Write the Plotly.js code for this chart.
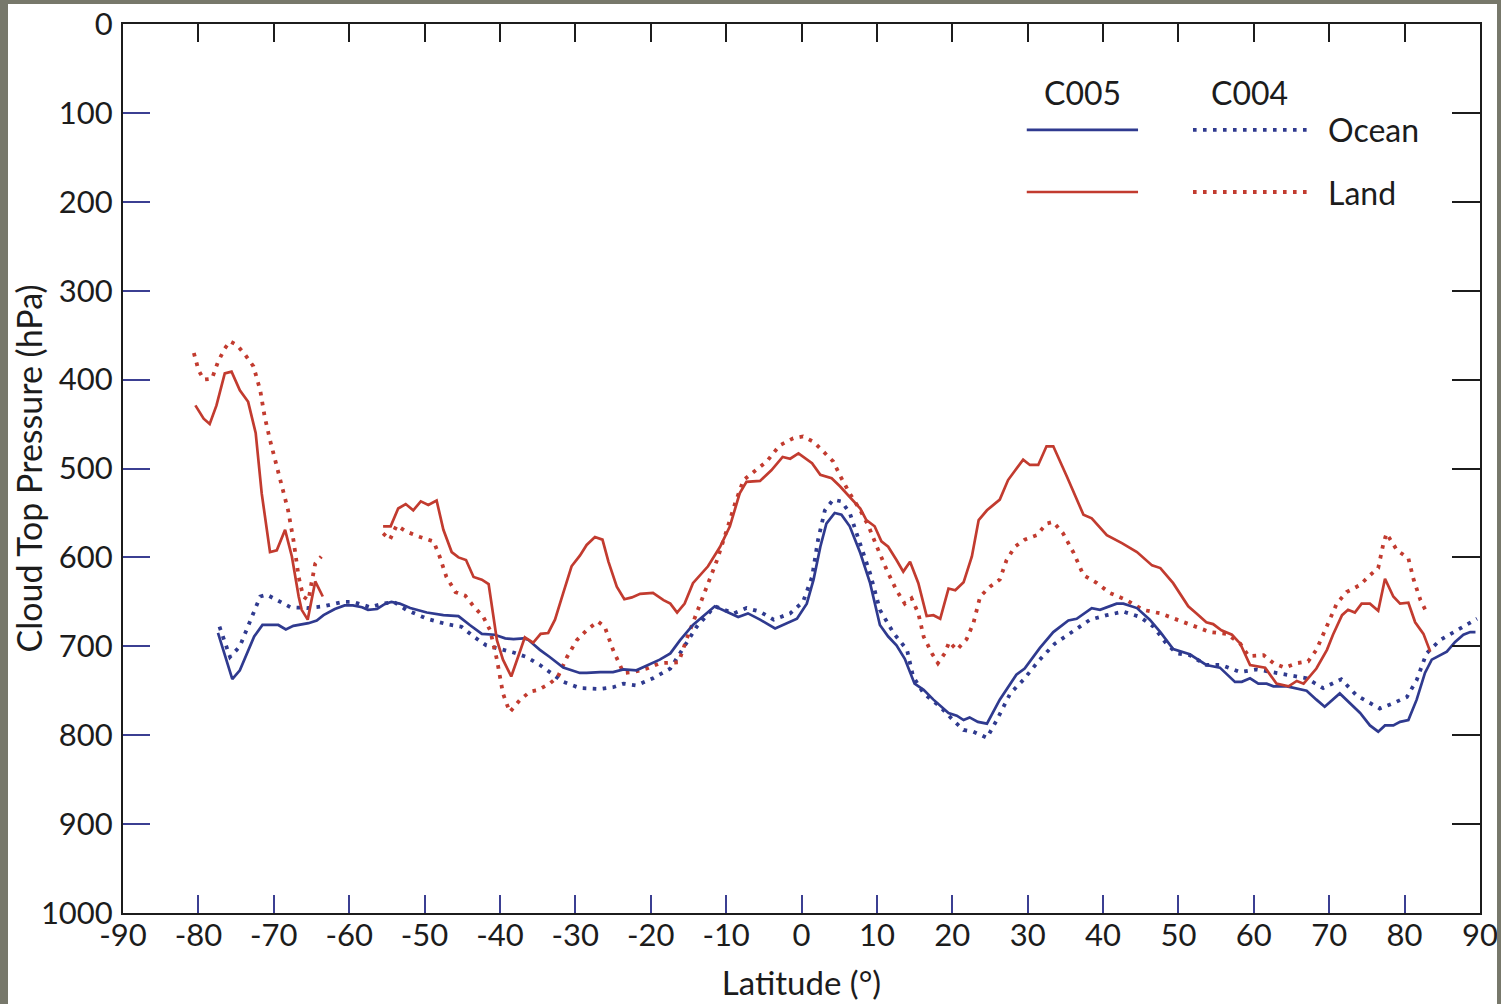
<!DOCTYPE html>
<html>
<head>
<meta charset="utf-8">
<script src="https://cdn.plot.ly/plotly-3.0.1.min.js"></script>
<style>
  html, body { margin: 0; padding: 0; background: #77786b; width: 1501px; height: 1004px; overflow: hidden; }
  #chart { position: absolute; left: 8px; top: 4px; width: 1489px; height: 1000px; background: #ffffff; }
</style>
</head>
<body>
<div id="chart"></div>
<script>
// Zonal mean cloud top pressure (hPa) by latitude, Collection 5 vs Collection 4

// C005, ocean
const c005OceanLat = [-77.4,-75.5,-74.5,-72.6,-71.5,-69.4,-68.4,-67.4,-65.4,-64.3,-63.4,-61.9,-60.6,-59.5,-58.3,-57.5,-56.3,-55.2,-54.4,-53.3,-51.9,-49.7,-47.5,-45.5,-44.0,-42.4,-40.7,-39.3,-38.2,-36.9,-36.2,-34.7,-33.4,-31.6,-29.4,-28.5,-26.7,-25.0,-23.6,-21.9,-18.8,-17.4,-16.1,-14.4,-11.5,-8.4,-7.1,-5.5,-3.5,-0.6,0.7,1.6,2.5,3.3,4.4,5.3,6.4,7.8,9.1,10.4,11.5,12.6,13.7,15.0,16.2,17.5,19.5,20.6,21.5,22.3,23.4,24.6,26.3,28.5,29.6,31.6,33.4,35.4,36.5,38.5,39.6,41.8,42.7,44.5,46.2,47.6,49.3,51.5,53.7,55.5,57.5,58.4,59.5,60.6,61.7,62.6,64.4,66.1,67.0,68.3,69.4,71.4,72.8,74.1,75.4,76.5,77.4,78.5,79.4,80.5,81.6,82.7,83.6,84.7,85.6,86.7,87.8,88.7,89.4];
const c005OceanCtp = [685,737,727,689,676,676,681,677,674,671,665,658,654,654,656,659,658,652,650,652,657,662,665,666,676,686,687,691,692,691,693,704,712,724,730,730,729,729,726,727,715,708,693,676,655,667,663,670,680,669,652,625,588,562,550,552,565,595,629,676,689,699,714,742,749,760,775,778,783,780,785,787,760,732,725,702,684,671,669,657,659,652,652,657,670,684,703,709,721,724,740,740,736,742,742,745,745,748,750,760,768,753,764,775,789,796,789,789,785,783,760,730,715,710,706,695,687,684,684];

// C004, ocean
const c004OceanLat = [-77.2,-75.8,-74.5,-73.2,-71.8,-70.9,-69.2,-67.8,-65.6,-63.4,-60.8,-59.5,-57.2,-55.5,-54.1,-52.4,-49.7,-47.1,-45.1,-43.5,-41.8,-40.0,-38.2,-36.5,-34.7,-32.9,-31.6,-29.4,-26.7,-25.0,-23.6,-21.9,-19.7,-17.4,-15.9,-13.9,-11.5,-9.0,-7.3,-5.5,-3.7,-1.5,0.2,1.4,2.2,3.1,4.2,5.3,6.4,7.8,9.1,10.4,12.2,14.0,14.8,16.2,18.4,20.1,21.5,22.8,24.6,25.9,27.7,29.4,31.6,33.6,36.1,38.3,40.5,42.7,44.9,46.7,48.4,49.8,51.5,53.7,55.7,58.2,60.4,62.6,64.8,67.0,69.2,71.6,73.6,76.7,78.5,80.3,81.6,82.9,84.7,86.9,89.6];
const c004OceanCtp = [678,712,700,674,644,642,650,656,657,655,650,650,656,652,650,659,669,675,678,689,699,703,707,712,721,732,740,747,748,746,742,744,736,725,704,678,655,663,657,661,670,663,650,622,580,547,535,537,550,584,618,659,685,704,734,753,768,783,794,796,803,783,753,738,715,697,682,670,665,661,667,678,697,708,710,721,721,729,726,729,733,736,747,737,755,770,764,757,738,708,693,682,669];

// C005, land (no land values between about -63 and -55)
const c005LandLat = [-80.4,-79.3,-78.5,-77.6,-76.5,-75.6,-74.5,-73.4,-72.4,-71.6,-70.5,-69.6,-68.5,-67.6,-66.7,-66.3,-65.5,-64.5,-63.5,-59.0,-55.5,-54.5,-53.5,-52.5,-51.5,-50.5,-49.5,-48.4,-47.5,-46.4,-45.5,-44.5,-43.5,-42.4,-41.5,-40.4,-39.6,-38.5,-37.6,-36.7,-35.6,-34.6,-33.6,-32.7,-31.6,-30.5,-29.4,-28.5,-27.4,-26.4,-25.6,-24.5,-23.5,-22.5,-21.4,-19.7,-18.3,-17.4,-16.5,-15.5,-14.4,-12.4,-10.8,-9.5,-8.2,-7.3,-5.5,-4.0,-2.5,-1.5,-0.4,1.4,2.5,4.0,5.1,6.4,7.8,8.6,9.7,10.6,11.5,12.6,13.5,14.4,15.5,16.6,17.5,18.4,19.5,20.4,21.5,22.6,23.5,24.6,26.3,27.4,29.4,30.3,31.4,32.5,33.4,35.2,37.4,38.5,40.5,42.5,44.5,46.5,47.6,49.3,51.3,52.4,53.7,54.6,55.7,57.1,58.2,59.5,61.5,63.0,64.6,65.7,66.6,68.3,69.7,70.5,71.7,72.5,73.4,74.3,75.4,76.5,77.4,78.5,79.4,80.5,81.4,82.5,83.4];
const c005LandCtp = [429,444,450,429,393,391,412,425,460,528,594,592,569,599,644,659,670,627,644,null,565,565,545,540,547,537,541,536,569,594,600,603,622,625,630,693,715,734,712,690,696,686,685,670,640,610,598,586,577,580,605,633,647,645,641,640,648,652,662,652,629,610,588,565,528,515,514,502,487,489,483,494,507,511,520,532,545,558,565,582,588,603,616,605,629,666,665,669,635,637,628,599,558,547,535,513,490,496,496,475,475,509,552,556,575,584,594,609,612,629,655,663,673,675,682,687,697,721,724,742,745,739,742,725,704,687,665,659,662,652,652,660,624,644,652,651,673,686,706];

// C004, land
const c004LandLat = [-80.6,-80.0,-79.3,-78.2,-77.4,-76.5,-75.8,-74.9,-73.8,-72.7,-71.8,-71.2,-70.5,-69.6,-68.7,-68.1,-67.4,-66.7,-66.1,-65.4,-65.0,-64.5,-63.7,-59.0,-55.5,-54.6,-53.7,-52.4,-50.6,-48.8,-48.0,-47.1,-45.9,-44.6,-43.5,-42.2,-41.3,-40.4,-39.6,-38.7,-37.3,-36.0,-34.9,-33.4,-32.3,-31.1,-29.8,-28.5,-27.0,-26.1,-25.0,-23.6,-22.3,-20.5,-18.8,-16.3,-15.2,-13.9,-12.6,-11.2,-9.9,-8.8,-7.7,-6.4,-4.6,-2.9,-1.1,0.2,1.6,2.9,4.2,5.3,6.4,7.8,8.9,10.0,11.3,12.6,13.7,14.6,15.5,16.2,17.3,18.1,19.0,19.6,20.6,21.9,22.8,23.7,25.0,26.3,27.2,28.3,29.6,31.2,32.5,33.4,34.7,36.1,37.4,39.2,40.9,43.1,45.3,47.6,49.8,52.0,54.2,56.4,58.2,59.3,61.3,62.6,64.1,65.7,67.2,68.3,69.7,71.0,72.3,74.1,75.4,76.5,77.2,77.6,79.0,80.5,81.2,82.1,83.1];
const c004LandCtp = [370,389,400,399,380,365,357,361,372,385,412,442,468,498,524,547,580,622,644,648,629,607,599,null,573,580,564,571,577,582,599,622,639,643,655,667,682,715,753,774,760,751,749,742,734,712,693,682,672,678,704,730,729,725,719,718,691,663,633,603,569,539,513,504,492,474,466,464,470,481,492,511,528,547,565,588,614,637,652,646,663,689,708,719,708,695,704,692,674,644,633,625,603,588,580,575,562,560,573,595,620,629,640,648,659,663,670,678,684,686,697,711,710,719,724,719,717,704,678,652,639,631,620,612,584,573,592,601,625,648,665];

// Axis ticks
const latTicks = [-90,-80,-70,-60,-50,-40,-30,-20,-10,0,10,20,30,40,50,60,70,80,90];
const latTickText = ['-90','-80','-70','-60','-50','-40','-30','-20','-10','0','10','20','30','40','50','60','70','80','90'];
const ctpTicks = [0,100,200,300,400,500,600,700,800,900,1000];
const ctpTickText = ['0','100','200','300','400','500','600','700','800','900','1000'];

// Legend entries
const collectionNames = ['C005', 'C004'];
const surfaceNames = ['Ocean', 'Land'];

const BLUE = '#2f3a8f';
const RED = '#c23b2f';
const INK = '#1c1c1c';
const TICK_BLUE = '#3b3f92';
const FONT = 'Gill Sans, "Gill Sans MT", Lato, "Open Sans", sans-serif';
const SOLID_W = 2.7;
const DOT_W = 3.8;
const DOT_DASH = '3.6px,6.4px';

const traces = [
  { x: c004OceanLat, y: c004OceanCtp, mode: 'lines', line: { color: BLUE, width: DOT_W, dash: DOT_DASH }, name: 'C004 Ocean', connectgaps: false },
  { x: c004LandLat, y: c004LandCtp, mode: 'lines', line: { color: RED, width: DOT_W, dash: DOT_DASH }, name: 'C004 Land', connectgaps: false },
  { x: c005OceanLat, y: c005OceanCtp, mode: 'lines', line: { color: BLUE, width: SOLID_W }, name: 'C005 Ocean', connectgaps: false },
  { x: c005LandLat, y: c005LandCtp, mode: 'lines', line: { color: RED, width: SOLID_W }, name: 'C005 Land', connectgaps: false },
  // carries the top and right frame axes
  { x: [], y: [], xaxis: 'x2', yaxis: 'y2', mode: 'lines', hoverinfo: 'skip', showlegend: false }
];

// Legend key geometry, in plot-area fractions
const keyCols = [
  { x0: 0.666, x1: 0.748, dash: 'solid', width: SOLID_W },
  { x0: 0.7885, x1: 0.8725, dash: DOT_DASH, width: DOT_W }
];
const keyRows = [
  { y: 0.8808, color: BLUE },
  { y: 0.8110, color: RED }
];

const shapes = [];
keyRows.forEach(r => keyCols.forEach(c => {
  shapes.push({ type: 'line', xref: 'paper', yref: 'paper', x0: c.x0, x1: c.x1, y0: r.y, y1: r.y,
    line: { color: r.color, width: c.width, dash: c.dash } });
}));

const annotations = [];
collectionNames.forEach((name, i) => {
  annotations.push({ xref: 'paper', yref: 'paper', x: (keyCols[i].x0 + keyCols[i].x1) / 2, y: 0.9235,
    text: name, showarrow: false, xanchor: 'center', yanchor: 'middle', font: { family: FONT, size: 32, color: INK } });
});
surfaceNames.forEach((name, i) => {
  annotations.push({ xref: 'paper', yref: 'paper', x: 0.8867, y: keyRows[i].y,
    text: name, showarrow: false, xanchor: 'left', yanchor: 'middle', font: { family: FONT, size: 32, color: INK } });
});

const layout = {
  width: 1489,
  height: 1000,
  margin: { l: 115, r: 17, t: 20, b: 91 },
  paper_bgcolor: '#ffffff',
  plot_bgcolor: '#ffffff',
  showlegend: false,
  font: { family: FONT, color: INK },
  xaxis: {
    range: [-90, 90.001], tickvals: latTicks, ticktext: latTickText,
    ticks: 'inside', ticklen: 18, tickwidth: 2, tickcolor: TICK_BLUE,
    showline: true, linecolor: INK, linewidth: 2, showgrid: false, zeroline: false,
    ticklabeloverflow: 'allow', ticklabelstandoff: -6,
    tickfont: { family: FONT, size: 31, color: INK },
    title: { text: 'Latitude (°)', font: { family: FONT, size: 33, color: INK }, standoff: 20 }
  },
  yaxis: {
    range: [1000, -0.01], tickvals: ctpTicks, ticktext: ctpTickText,
    ticks: 'inside', ticklen: 27, tickwidth: 2, tickcolor: TICK_BLUE,
    showline: true, linecolor: INK, linewidth: 2, showgrid: false, zeroline: false,
    ticklabeloverflow: 'allow', ticklabelstandoff: 2,
    tickfont: { family: FONT, size: 31, color: INK },
    title: { text: 'Cloud Top Pressure (hPa)', font: { family: FONT, size: 34, color: INK }, standoff: 6 }
  },
  xaxis2: {
    overlaying: 'x', side: 'top', anchor: 'y2', range: [-90, 90.001], tickvals: latTicks,
    ticks: 'inside', ticklen: 18, tickwidth: 2, tickcolor: INK, showticklabels: false,
    showline: true, linecolor: INK, linewidth: 2, showgrid: false, zeroline: false
  },
  yaxis2: {
    overlaying: 'y', side: 'right', anchor: 'x2', range: [1000, -0.01], tickvals: ctpTicks,
    ticks: 'inside', ticklen: 28, tickwidth: 2, tickcolor: INK, showticklabels: false,
    showline: true, linecolor: INK, linewidth: 2, showgrid: false, zeroline: false
  },
  shapes: shapes,
  annotations: annotations
};

Plotly.newPlot('chart', traces, layout, { staticPlot: true, displayModeBar: false });
</script>
</body>
</html>
